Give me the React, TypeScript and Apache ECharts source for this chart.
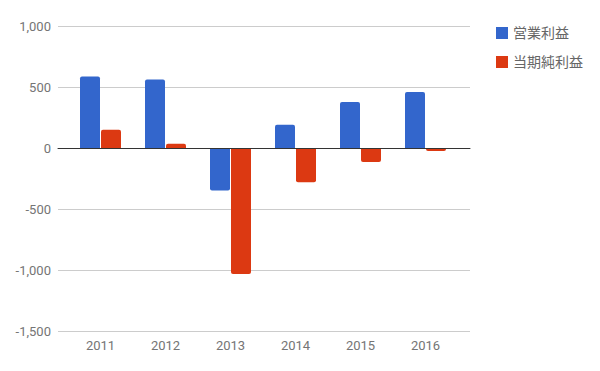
import React, { useEffect, useRef } from "react";
import * as echarts from "echarts";

const categories = ["2011", "2012", "2013", "2014", "2015", "2016"];
const operatingProfit = [586, 561, -348, 191, 378, 460];
const netProfit = [150, 35, -1033, -280, -115, -25];
const seriesNames = ["営業利益", "当期純利益"];
const yTicks = { min: -1500, max: 1000, interval: 500 };

const FONT = "Roboto, 'Noto Sans CJK JP', sans-serif";

function withRadius(values: number[]) {
  return values.map((v) => ({
    value: v,
    itemStyle: { borderRadius: v >= 0 ? [2, 2, 0, 0] : [0, 0, 2, 2] },
  }));
}

export default function App() {
  const ref = useRef<HTMLDivElement>(null);
  useEffect(() => {
    if (!ref.current) return;
    const chart = echarts.init(ref.current, null, { renderer: "svg" });
    chart.setOption({
      animation: false,
      textStyle: { fontFamily: FONT },
      legend: {
        orient: "vertical",
        left: 491,
        top: 21,
        itemWidth: 12,
        itemHeight: 12,
        itemGap: 15,
        icon: "rect",
        data: seriesNames,
        textStyle: { fontSize: 14, color: "#666", fontFamily: FONT },
      },
      grid: [
        { left: 58, right: 130, top: 26, height: 305 },
        { left: 68, right: 142, top: 26, height: 305 },
      ],
      xAxis: [
        {
          gridIndex: 0,
          type: "category",
          data: categories,
          axisLabel: { show: false },
          axisTick: { show: false },
          axisLine: { show: true, onZero: true, lineStyle: { color: "#333", width: 1 } },
          z: 10,
        },
        {
          gridIndex: 1,
          type: "category",
          data: categories,
          axisLine: { show: false },
          axisTick: { show: false },
          axisLabel: { color: "#757575", fontSize: 13, margin: 8, fontFamily: FONT },
        },
      ],
      yAxis: [
        {
          gridIndex: 0,
          type: "value",
          min: yTicks.min,
          max: yTicks.max,
          interval: yTicks.interval,
          axisLine: { show: false },
          axisTick: { show: false },
          splitLine: { lineStyle: { color: "#ccc", width: 1 } },
          axisLabel: {
            color: "#757575",
            fontSize: 13,
            margin: 7,
            fontFamily: FONT,
            formatter: (v: number) => v.toLocaleString("en-US"),
          },
        },
        {
          gridIndex: 1,
          type: "value",
          min: yTicks.min,
          max: yTicks.max,
          interval: yTicks.interval,
          show: false,
          splitLine: { show: false },
        },
      ],
      series: [
        {
          name: seriesNames[0],
          type: "bar",
          xAxisIndex: 1,
          yAxisIndex: 1,
          barWidth: 20,
          barGap: "5%",
          itemStyle: { color: "#3366cc" },
          data: withRadius(operatingProfit),
        },
        {
          name: seriesNames[1],
          type: "bar",
          xAxisIndex: 1,
          yAxisIndex: 1,
          barWidth: 20,
          barGap: "5%",
          itemStyle: { color: "#dc3912" },
          data: withRadius(netProfit),
        },
      ],
    });
    return () => chart.dispose();
  }, []);
  return (
    <div
      ref={ref}
      style={{ position: "absolute", left: 0, top: 0, width: 600, height: 371 }}
    />
  );
}
